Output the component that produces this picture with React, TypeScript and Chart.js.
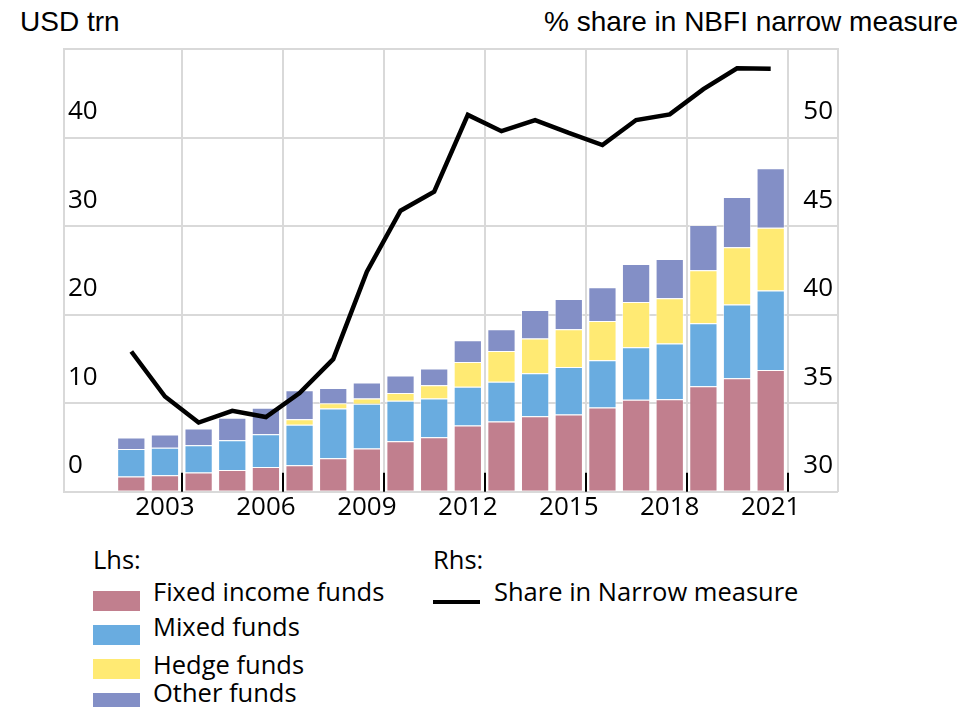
import React, { useEffect, useRef } from "react";
import { Chart, registerables } from "chart.js";

Chart.register(...registerables);

// ---- Data ----
const years = [2002, 2003, 2004, 2005, 2006, 2007, 2008, 2009, 2010, 2011, 2012, 2013, 2014, 2015, 2016, 2017, 2018, 2019, 2020, 2021];
const fixedIncomeFunds = [1.73, 1.88, 2.18, 2.45, 2.79, 3.01, 3.8, 4.89, 5.72, 6.17, 7.48, 7.93, 8.54, 8.72, 9.51, 10.38, 10.46, 11.93, 12.83, 13.74];
const mixedFunds = [3.09, 3.09, 3.09, 3.38, 3.72, 4.55, 5.6, 5.04, 4.55, 4.36, 4.37, 4.49, 4.86, 5.38, 5.35, 5.95, 6.28, 7.11, 8.31, 8.98];
const hedgeFunds = [null, null, null, null, null, 0.64, 0.6, 0.6, 0.9, 1.51, 2.82, 3.49, 3.9, 4.26, 4.44, 5.11, 5.12, 5.98, 6.48, 7.11];
const otherFunds = [1.31, 1.5, 1.87, 2.52, 2.97, 3.28, 1.73, 1.81, 1.96, 1.88, 2.45, 2.45, 3.24, 3.42, 3.8, 4.29, 4.44, 5.12, 5.68, 6.71];
const shareInNarrowMeasure = [37.92, 35.38, 33.91, 34.57, 34.22, 35.57, 37.49, 42.43, 45.87, 46.95, 51.28, 50.36, 50.99, 50.26, 49.58, 50.99, 51.31, 52.73, 53.91, 53.89];

const xTickYears = [2003, 2006, 2009, 2012, 2015, 2018, 2021];
const xRange = [2000, 2023];
const lhsRange = [0, 50];
const rhsRange = [30, 55];

// ---- Styles ----
const C_FIXED = "#C17F8E";
const C_MIXED = "#69ACE0";
const C_HEDGE = "#FFEA73";
const C_OTHER = "#838FC6";
const C_GRID = "#D9D9D9";
const TICK_FONT = "'Open Sans', 'Noto Sans', sans-serif";
const TITLE_FONT = "'Liberation Sans', Arial, sans-serif";

export default function App() {
  const ref = useRef<HTMLCanvasElement | null>(null);

  useEffect(() => {
    if (!ref.current) return;

    const yearGrid = {
      id: "yearGrid",
      beforeDatasetsDraw(chart: any) {
        const { ctx, chartArea, scales } = chart;
        const xs = scales.x;
        ctx.save();
        for (const t of xTickYears) {
          const px = Math.round(xs.getPixelForValue(t + 0.5));
          ctx.strokeStyle = C_GRID;
          ctx.lineWidth = 2;
          ctx.beginPath();
          ctx.moveTo(px, chartArea.top);
          ctx.lineTo(px, chartArea.bottom);
          ctx.stroke();
          ctx.strokeStyle = "#000";
          ctx.lineWidth = 2;
          ctx.beginPath();
          ctx.moveTo(px, chartArea.bottom - 19);
          ctx.lineTo(px, chartArea.bottom);
          ctx.stroke();
        }
        ctx.restore();
      },
    };

    const barCommon = {
      type: "bar" as const,
      yAxisID: "y",
      order: 1,
      borderWidth: 1,
      borderColor: "rgba(255,255,255,0.55)",
      categoryPercentage: 1,
      barPercentage: 0.84,
    };

    const zeroWidth = (axis: any) => {
      axis.width = 0;
    };

    const chart = new Chart(ref.current, {
      type: "bar",
      data: {
        labels: years,
        datasets: [
          { ...barCommon, label: "Fixed income funds", data: fixedIncomeFunds, backgroundColor: C_FIXED },
          { ...barCommon, label: "Mixed funds", data: mixedFunds, backgroundColor: C_MIXED },
          { ...barCommon, label: "Hedge funds", data: hedgeFunds as any, backgroundColor: C_HEDGE },
          { ...barCommon, label: "Other funds", data: otherFunds, backgroundColor: C_OTHER },
          {
            type: "line" as const,
            label: "Share in Narrow measure",
            data: shareInNarrowMeasure,
            yAxisID: "y1",
            order: 0,
            borderColor: "#000",
            borderWidth: 4.5,
            pointRadius: 0,
            tension: 0,
            fill: false,
          } as any,
        ],
      },
      options: {
        responsive: false,
        animation: false,
        layout: { padding: { left: 64, right: 135, top: 49, bottom: 17 } },
        plugins: { legend: { display: false }, tooltip: { enabled: false } },
        scales: {
          x: {
            type: "linear",
            min: xRange[0],
            max: xRange[1],
            offset: false,
            stacked: true,
            afterBuildTicks: (axis: any) => {
              axis.ticks = xTickYears.map((v) => ({ value: v }));
            },
            grid: { display: false, drawTicks: false },
            border: { display: false },
            ticks: {
              padding: 0,
              color: "#000",
              font: { family: TICK_FONT, size: 26 },
              callback: (v: any) => String(v),
              maxRotation: 0,
              autoSkip: false,
            },
          },
          y: {
            type: "linear",
            position: "left",
            stacked: true,
            min: lhsRange[0],
            max: lhsRange[1],
            afterFit: zeroWidth,
            grid: { color: C_GRID, lineWidth: 2, drawTicks: false },
            border: { display: true, color: C_GRID, width: 2 },
            ticks: {
              stepSize: 10,
              mirror: true,
              padding: 4,
              labelOffset: -26,
              color: "#000",
              font: { family: TICK_FONT, size: 26 },
              callback: (v: any) => (v === lhsRange[1] ? "" : String(v)),
            },
          },
          y1: {
            type: "linear",
            position: "right",
            min: rhsRange[0],
            max: rhsRange[1],
            afterFit: zeroWidth,
            grid: { display: false, drawTicks: false },
            border: { display: true, color: C_GRID, width: 2 },
            ticks: {
              stepSize: 5,
              mirror: true,
              padding: -5,
              labelOffset: -26,
              color: "#000",
              font: { family: TICK_FONT, size: 26 },
              callback: (v: any) => (v === rhsRange[1] ? "" : String(v)),
            },
          },
        },
      },
      plugins: [yearGrid],
    } as any);

    return () => chart.destroy();
  }, []);

  const txt: React.CSSProperties = {
    position: "absolute",
    fontFamily: TICK_FONT,
    fontSize: 25.5,
    lineHeight: "30px",
    color: "#000",
    whiteSpace: "nowrap",
  };
  const sw = (top: number, color: string): React.CSSProperties => ({
    position: "absolute",
    left: 93,
    top,
    width: 47,
    height: 20,
    background: color,
  });

  return (
    <div style={{ position: "absolute", left: 0, top: 0, width: 973, height: 707, background: "#fff", overflow: "hidden" }}>
      <div style={{ position: "absolute", left: 20, top: 6, fontFamily: TITLE_FONT, fontSize: 28, lineHeight: "32px", color: "#000", whiteSpace: "nowrap" }}>
        USD trn
      </div>
      <div style={{ position: "absolute", right: 15, top: 6, fontFamily: TITLE_FONT, fontSize: 28, lineHeight: "32px", color: "#000", whiteSpace: "nowrap" }}>
        % share in NBFI narrow measure
      </div>
      <canvas ref={ref} width={973} height={540} style={{ position: "absolute", left: 0, top: 0, display: "block" }} />

      <div style={{ ...txt, left: 93, top: 544 }}>Lhs:</div>
      <div style={{ ...txt, left: 433, top: 544 }}>Rhs:</div>

      <div style={sw(591, C_FIXED)} />
      <div style={{ ...txt, left: 153, top: 576 }}>Fixed income funds</div>
      <div style={sw(625, C_MIXED)} />
      <div style={{ ...txt, left: 153, top: 611 }}>Mixed funds</div>
      <div style={sw(659, C_HEDGE)} />
      <div style={{ ...txt, left: 153, top: 649 }}>Hedge funds</div>
      <div style={sw(693, C_OTHER)} />
      <div style={{ ...txt, left: 153, top: 677 }}>Other funds</div>

      <div style={{ position: "absolute", left: 433, top: 600, width: 47, height: 4, background: "#000" }} />
      <div style={{ ...txt, left: 494, top: 576 }}>Share in Narrow measure</div>
    </div>
  );
}
